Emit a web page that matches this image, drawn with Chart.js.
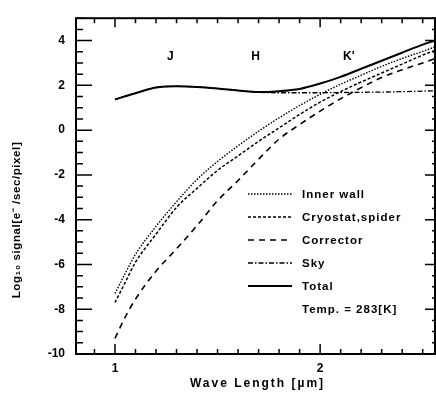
<!DOCTYPE html>
<html>
<head>
<meta charset="utf-8">
<script src="https://cdn.jsdelivr.net/npm/chart.js@4.4.1/dist/chart.umd.min.js"></script>
<style>
  body { margin: 0; background: #fff; }
  #wrap { width: 436px; height: 395px; }
</style>
</head>
<body>
<div id="wrap"><canvas id="sigChart" width="436" height="395"></canvas></div>
<script>
// wave length grid (um) and log10 signal
const waveLength = [1.0, 1.05, 1.1, 1.2, 1.3, 1.4, 1.5, 1.6, 1.7, 1.8, 1.9, 2.0, 2.1, 2.2, 2.3, 2.4, 2.5, 2.56];
const innerWall  = [-7.3, -6.4, -5.55, -4.3, -3.2, -2.2, -1.4, -0.7, -0.05, 0.55, 1.1, 1.6, 2.05, 2.45, 2.85, 3.2, 3.52, 3.72];
const cryostat   = [-7.7, -6.8, -5.9, -4.65, -3.45, -2.6, -1.8, -1.15, -0.5, 0.1, 0.7, 1.25, 1.72, 2.15, 2.55, 2.95, 3.35, 3.56];
const corrector  = [-9.3, -8.35, -7.55, -6.3, -5.3, -4.26, -3.15, -2.25, -1.3, -0.4, 0.25, 0.85, 1.4, 1.9, 2.35, 2.7, 3.0, 3.2];
const sky        = [1.37, 1.51, 1.65, 1.9, 1.96, 1.93, 1.86, 1.77, 1.69, 1.67, 1.67, 1.67, 1.68, 1.69, 1.7, 1.72, 1.74, 1.76];
const total      = [1.37, 1.51, 1.65, 1.9, 1.96, 1.93, 1.86, 1.77, 1.70, 1.74, 1.84, 2.08, 2.38, 2.74, 3.1, 3.46, 3.82, 4.0];

const xTickLabels = [1, 2];
const yTickLabels = [-10, -8, -6, -4, -2, 0, 2, 4];
const bandNames = ['J', 'H', "K'"];
const bandPos = [1.27, 1.685, 2.14];
const seriesNames = ['Inner wall', 'Cryostat,spider', 'Corrector', 'Sky', 'Total'];
const tempNote = 'Temp. = 283[K]';

const boldFont = '"Liberation Sans", Arial, sans-serif';

function pts(ys) {
    return waveLength.map((x, i) => ({ x: x, y: ys[i] }));
}

function line(label, ys, dash, width) {
    return {
        label: label,
        data: pts(ys),
        borderColor: '#000',
        borderWidth: width,
        borderDash: dash,
        pointRadius: 0,
        fill: false,
        cubicInterpolationMode: 'monotone'
    };
}

// frame, inward ticks, titles, band names and the legend box
const decor = {
    id: 'decor',
    afterDraw(chart) {
        const ctx = chart.ctx;
        const a = chart.chartArea;
        const xs = chart.scales.x;
        const ys = chart.scales.y;
        ctx.save();
        ctx.strokeStyle = '#000';
        ctx.fillStyle = '#000';

        // box
        ctx.lineWidth = 2;
        ctx.strokeRect(a.left, a.top, a.right - a.left, a.bottom - a.top);

        // x ticks (bottom and top)
        ctx.lineWidth = 1.5;
        for (let k = 9; k <= 25; k++) {
            const v = k / 10;
            const px = xs.getPixelForValue(v);
            const major = xTickLabels.includes(v);
            ctx.beginPath();
            ctx.moveTo(px, a.bottom);
            ctx.lineTo(px, a.bottom - (major ? 10 : 5));
            ctx.moveTo(px, a.top);
            ctx.lineTo(px, a.top + (major ? 9 : 5));
            ctx.stroke();
        }
        // y ticks (left and right)
        for (let k = -20; k <= 10; k++) {
            const v = k / 2;
            const py = ys.getPixelForValue(v);
            const major = yTickLabels.includes(v);
            ctx.beginPath();
            ctx.moveTo(a.left, py);
            ctx.lineTo(a.left + (major ? 16 : 7), py);
            ctx.moveTo(a.right, py);
            ctx.lineTo(a.right - (major ? 10 : 3), py);
            ctx.stroke();
        }

        // band names
        ctx.font = 'bold 12px ' + boldFont;
        ctx.textAlign = 'center';
        ctx.textBaseline = 'middle';
        bandNames.forEach((b, i) => {
            ctx.fillText(b, xs.getPixelForValue(bandPos[i]), ys.getPixelForValue(3.3));
        });

        // legend
        const ds = chart.data.datasets;
        const rowY = [194, 217, 240, 263, 286];
        ctx.font = 'bold 11.5px ' + boldFont;
        ctx.letterSpacing = '1px';
        ctx.textAlign = 'left';
        seriesNames.forEach((name, i) => {
            const d = ds[i];
            ctx.beginPath();
            ctx.setLineDash(d.borderDash);
            ctx.lineWidth = d.borderWidth;
            ctx.moveTo(248, rowY[i]);
            ctx.lineTo(292, rowY[i]);
            ctx.stroke();
            ctx.setLineDash([]);
            ctx.fillText(name, 302, rowY[i] + 1);
        });
        ctx.fillText(tempNote, 302, 310);

        // axis titles
        ctx.font = 'bold 12px ' + boldFont;
        ctx.letterSpacing = '2px';
        ctx.textAlign = 'center';
        ctx.fillText('Wave Length [\u00b5m]', (a.left + a.right) / 2 + 2, 384);

        ctx.translate(17, 220);
        ctx.rotate(-Math.PI / 2);
        ctx.letterSpacing = '0.6px';
        ctx.font = 'bold 11.5px ' + boldFont;
        ctx.fillText('Log\u2081\u2080 signal[e\u207b /sec/pixel]', 0, 0);
        ctx.restore();
    }
};

const ctx = document.getElementById('sigChart').getContext('2d');
new Chart(ctx, {
    type: 'line',
    data: {
        datasets: [
            line(seriesNames[0], innerWall, [1.5, 1.5], 1.4),
            line(seriesNames[1], cryostat, [3, 2], 1.5),
            line(seriesNames[2], corrector, [6, 5], 1.6),
            line(seriesNames[3], sky, [5, 2, 1.5, 2], 1.3),
            line(seriesNames[4], total, [], 2)
        ]
    },
    options: {
        responsive: false,
        animation: false,
        layout: { padding: { top: 6, right: 1, left: 0, bottom: 0 } },
        plugins: {
            legend: { display: false },
            tooltip: { enabled: false }
        },
        scales: {
            x: {
                type: 'linear',
                min: 0.81,
                max: 2.56,
                grid: { display: false, drawTicks: false },
                border: { display: false },
                afterBuildTicks: s => { s.ticks = xTickLabels.map(v => ({ value: v })); },
                afterFit: s => { s.height = 41; },
                ticks: {
                    padding: 7,
                    color: '#000',
                    font: { family: boldFont, size: 12, weight: 'bold' }
                }
            },
            y: {
                min: -10,
                max: 5,
                grid: { display: false, drawTicks: false },
                border: { display: false },
                afterBuildTicks: s => { s.ticks = yTickLabels.map(v => ({ value: v })); },
                afterFit: s => { s.width = 76; },
                ticks: {
                    padding: 11,
                    color: '#000',
                    font: { family: boldFont, size: 12, weight: 'bold' }
                }
            }
        }
    },
    plugins: [decor]
});
</script>
</body>
</html>
